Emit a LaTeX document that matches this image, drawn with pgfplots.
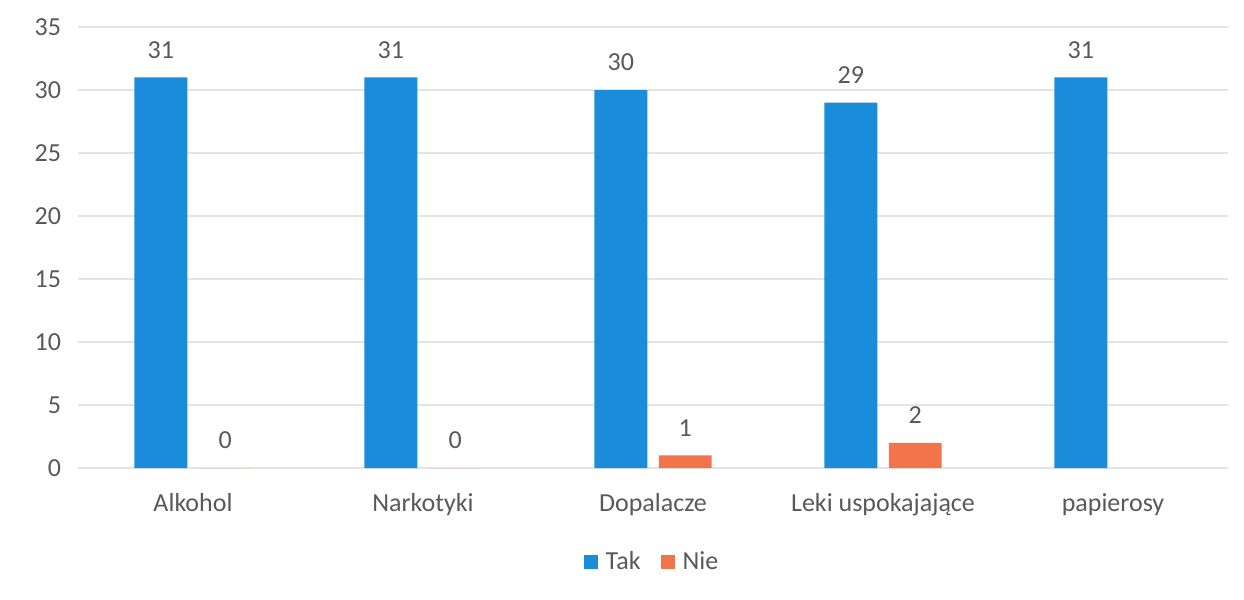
\documentclass[border=0pt]{standalone}
\usepackage{pgfplots}
\pgfplotsset{compat=1.18}
\usepackage{fontspec}
\setmainfont{Carlito}
\usetikzlibrary{calc}

\definecolor{takblue}{HTML}{1A8CDA}
\definecolor{nieorange}{HTML}{F2744A}
\definecolor{txtgray}{HTML}{595959}
\definecolor{gridgray}{HTML}{E4E4E4}

\begin{document}
\begin{tikzpicture}
\begin{axis}[
    scale only axis,
    width=575pt, height=220.5pt,
    ybar,
    bar width=0.23,
    xmin=-0.5, xmax=4.5,
    ymin=0, ymax=35,
    ytick={0,5,...,35},
    xtick=data,
    xticklabels={Alkohol, Narkotyki, Dopalacze, Leki uspokajające, papierosy},
    ymajorgrids,
    grid style={gridgray, line width=0.8pt},
    axis line style={draw=none},
    tick style={draw=none},
    font=\fontsize{13}{15}\selectfont,
    ticklabel style={text=txtgray},
    /pgf/number format/assume math mode=true,
    yticklabel style={xshift=-5pt},
    xticklabel style={yshift=-5pt},
    nodes near coords,
    every node near coord/.append style={text=txtgray, yshift=6pt},
    legend style={at={(0.5,-0.213)}, anchor=center, draw=none,
        legend columns=-1, text=txtgray,
        /tikz/every odd column/.append style={column sep=2pt},
        /tikz/every even column/.append style={column sep=8pt}},
    legend image code/.code={\fill[#1,draw=none] (0pt,-3.5pt) rectangle (7pt,3.5pt);},
]
\addplot[fill=takblue, draw=none, bar shift=-0.14] coordinates {(0,31) (1,31) (2,30) (3,29) (4,31)};
\addplot[fill=nieorange, draw=none, bar shift=0.14] coordinates {(0,0) (1,0) (2,1) (3,2)};
\legend{Tak, Nie}
\end{axis}
\pgfresetboundingbox
\path[use as bounding box] ($(current axis.south west)+(-39pt,-65.5pt)$) rectangle ($(current axis.north east)+(8pt,13.5pt)$);
\end{tikzpicture}
\end{document}
